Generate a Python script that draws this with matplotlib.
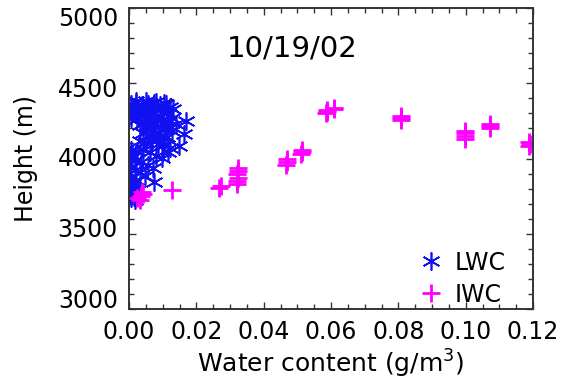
import matplotlib
matplotlib.use("Agg")
import matplotlib.pyplot as plt
from matplotlib.ticker import MultipleLocator
from matplotlib.transforms import ScaledTranslation

# ---- data ----
lwc_x = [0.0006, 0.0021, 0.0039, 0.0056, 0.0074, 0.0092, 0.0110, 0.0122,
         0.0012, 0.0030, 0.0048, 0.0065, 0.0083, 0.0101, 0.0116, 0.0130,
         0.0006, 0.0024, 0.0042, 0.0059, 0.0077, 0.0095, 0.0113, 0.0128,
         0.0169,
         0.0033, 0.0050, 0.0068, 0.0086, 0.0104, 0.0122, 0.0140,
         0.0163,
         0.0042, 0.0059, 0.0077, 0.0095, 0.0113, 0.0128,
         0.0149,
         0.0033, 0.0050, 0.0068, 0.0086, 0.0104, 0.0122,
         0.0006, 0.0024, 0.0042, 0.0062, 0.0080, 0.0098, 0.0116,
         0.0006, 0.0021, 0.0036, 0.0056, 0.0071,
         0.0003, 0.0018, 0.0033, 0.0048,
         0.0006, 0.0021, 0.0074,
         0.0003, 0.0015, 0.0027,
         0.0003, 0.0015, 0.0006, 0.0018, 0.0012,
         0.0015, 0.0030, 0.0045, 0.0060, 0.0090, 0.0100, 0.0009, 0.0012,
         0.0020, 0.0050, 0.0080, 0.0105]
lwc_y = [4362, 4369, 4355, 4362, 4369, 4355, 4362, 4342,
         4322, 4309, 4322, 4316, 4322, 4309, 4302, 4330,
         4269, 4262, 4276, 4269, 4262, 4256, 4249, 4269,
         4249,
         4223, 4216, 4223, 4209, 4203, 4216, 4230,
         4163,
         4169, 4156, 4163, 4150, 4143, 4180,
         4083,
         4116, 4110, 4116, 4096, 4090, 4070,
         4056, 4050, 4056, 4043, 4017, 4003, 4043,
         4003, 3990, 3977, 3957, 3937,
         3944, 3924, 3910, 3884,
         3870, 3857, 3844,
         3817, 3804, 3791,
         3757, 3744, 3738, 3724, 3771,
         4340, 4290, 4240, 4190, 4130, 4235, 4020, 3840,
         4380, 4385, 4378, 4372]

iwc_x = [0.0025, 0.0036, 0.0042, 0.0033, 0.0040,
         0.0128,
         0.0268, 0.0272,
         0.0320, 0.0322, 0.0324, 0.0322, 0.0325, 0.0323,
         0.0466, 0.0468, 0.0470,
         0.0512, 0.0514, 0.0513,
         0.0586, 0.0588, 0.0587,
         0.0608, 0.0610,
         0.0807, 0.0809, 0.0808,
         0.0997, 0.0998, 0.0999, 0.0998,
         0.1071, 0.1073, 0.1072,
         0.1188, 0.1190, 0.1189]
iwc_y = [3738, 3751, 3764, 3724, 3775,
         3791,
         3805, 3815,
         3832, 3852, 3872, 3895, 3915, 3935,
         3955, 3978, 3998,
         4028, 4045, 4058,
         4300, 4312, 4325,
         4328, 4338,
         4253, 4270, 4285,
         4128, 4148, 4168, 4185,
         4200, 4216, 4232,
         4081, 4097, 4112]

x_ticks = [0.00, 0.02, 0.04, 0.06, 0.08, 0.10, 0.12]
y_ticks = [3000, 3500, 4000, 4500, 5000]

blue = "#1010F0"
magenta = "#FF00FF"
FS = 17

fig = plt.figure(figsize=(5.69, 3.85), dpi=100)
ax = fig.add_axes([129 / 569, 1 - 309 / 385, 404 / 569, 301 / 385])

ax.plot(lwc_x, lwc_y, linestyle="none", marker=(6, 2, 0), markersize=13,
        markeredgewidth=1.2, color=blue, label="LWC")
ax.plot(iwc_x, iwc_y, linestyle="none", marker="+", markersize=13,
        markeredgewidth=2.0, color=magenta, label="IWC")

ax.set_xlim(0, 0.12)
ax.set_ylim(3000, 5000)
ax.set_xticks(x_ticks)
ax.set_xticklabels([f"{v:.2f}" for v in x_ticks])
ax.set_yticks(y_ticks)
ax.set_yticklabels([str(v) for v in y_ticks])
ax.xaxis.set_minor_locator(MultipleLocator(0.005))
ax.yaxis.set_minor_locator(MultipleLocator(100))
ax.tick_params(which="both", direction="in", top=True, right=True,
               width=1.0, color="#333333", labelsize=FS)
ax.tick_params(which="major", length=5)
ax.tick_params(which="minor", length=3.5)
ax.tick_params(axis="x", pad=8)
ax.tick_params(axis="y", pad=8)
for s in ax.spines.values():
    s.set_linewidth(1.4)
    s.set_color("#333333")

# the reference's y labels sit slightly compressed toward the middle
offsets_px = {5000: -9, 4500: -4, 4000: 1.5, 3500: 6, 3000: 11}
for tick in ax.yaxis.get_major_ticks():
    v = int(round(tick.get_loc()))
    dy = offsets_px.get(v, 0) / 100.0
    tick.label1.set_transform(tick.label1.get_transform() +
                              ScaledTranslation(0, dy, fig.dpi_scale_trans))

ax.set_xlabel("Water content (g/m$^{3}$)", fontsize=18, labelpad=3)
ax.set_ylabel("Height (m)", fontsize=FS, labelpad=14)

ax.text(0.405, 0.867, "10/19/02", transform=ax.transAxes, fontsize=21,
        ha="center", va="center")

ax.legend(loc="lower left", bbox_to_anchor=(0.685, -0.035), frameon=False,
          fontsize=FS, handlelength=1.0, handletextpad=0.5,
          labelspacing=0.33, borderaxespad=0.15)

fig.savefig("out.png", dpi=100)
